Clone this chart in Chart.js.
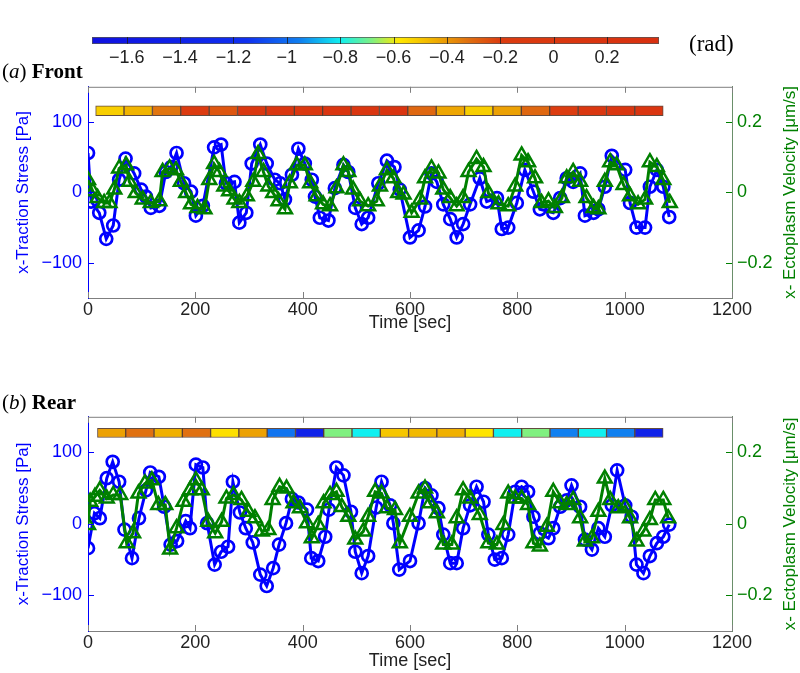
<!DOCTYPE html>
<html>
<head>
<meta charset="utf-8">
<script src="https://cdn.jsdelivr.net/npm/chart.js@4.4.0/dist/chart.umd.min.js"></script>
<style>
body { margin:0; background:#fff; width:800px; height:673px; overflow:hidden; position:relative; }
canvas { position:absolute; left:0; }
.lab { position:absolute; font-family:"Liberation Serif","DejaVu Serif",serif; font-size:21px; color:#000; white-space:nowrap; }
</style>
</head>
<body>
<canvas id="cbar" width="800" height="45" style="top:30px"></canvas>
<canvas id="front" width="800" height="270" style="top:70px"></canvas>
<canvas id="rear" width="800" height="273" style="top:400px"></canvas>
<div class="lab" style="left:689px;top:31px;font-size:23px">(rad)</div>
<div class="lab" style="left:2px;top:59px">(<i>a</i>) <b>Front</b></div>
<div class="lab" style="left:2px;top:390px">(<i>b</i>) <b>Rear</b></div>
<script>
// ticks
var xTicks = [0, 200, 400, 600, 800, 1000, 1200];
var stressTicks = [-100, 0, 100];
var velTicks = [-0.2, 0, 0.2];
var cbTicks = [-1.6, -1.4, -1.2, -1, -0.8, -0.6, -0.4, -0.2, 0, 0.2];
var cbRange = [-1.73, 0.395];

// (a) front
var frontStressT = [0,6,21,34,47,58,70,86,99,108,117,133,145,155,165,179,192,201,214,235,248,257,273,282,295,305,321,333,348,358,367,380,392,404,417,423,432,448,460,476,485,498,510,522,541,557,571,581,600,616,628,640,650,662,675,687,699,712,730,743,762,771,783,799,814,830,842,867,880,892,904,917,926,942,951,963,976,1001,1010,1022,1038,1047,1060,1072,1083];
var frontStress = [56,-13,-29,-66,-47,18,48,27,4,-6,-22,-19,29,36,56,13,1,-33,-19,64,68,13,15,-43,-29,41,68,41,18,13,-10,25,62,41,18,-6,-36,-40,6,39,29,-22,-45,-36,13,45,36,4,-64,-54,-20,27,15,-17,-38,-64,-45,-17,20,-13,-8,-52,-50,-15,32,1,-24,-29,-8,20,15,27,-33,-29,-24,8,52,32,-15,-50,-50,8,32,8,-35];
var frontVelT = [0,9,18,30,40,49,58,71,77,89,102,117,133,139,152,164,173,183,192,204,217,226,235,245,254,263,273,282,296,308,317,327,336,345,355,367,376,389,404,414,426,438,451,463,476,485,494,507,522,538,544,557,569,578,588,603,619,628,640,653,662,675,687,699,709,724,737,746,765,783,796,808,820,833,845,858,870,883,892,904,917,929,942,951,963,973,985,998,1010,1025,1038,1047,1060,1072,1084];
var frontVel = [0.035,0.003,-0.016,-0.03,-0.03,0.008,0.068,0.077,0.03,-0.002,-0.02,-0.03,-0.025,0.058,0.068,0.063,0.03,-0.002,-0.034,-0.044,-0.048,0.035,0.081,0.058,0.017,0.003,-0.02,-0.03,-0.011,0.03,0.109,0.058,0.017,-0.002,-0.025,-0.048,0.026,0.077,0.077,0.026,-0.011,-0.034,-0.039,0.012,0.077,0.058,0.008,-0.025,-0.039,-0.025,0.017,0.063,0.04,-0.002,-0.006,-0.058,-0.02,0.04,0.068,0.054,0.008,-0.016,-0.039,-0.016,0.058,0.095,0.072,-0.002,-0.034,-0.039,0.017,0.105,0.086,0.04,-0.03,-0.025,-0.044,-0.016,0.04,0.058,0.03,-0.016,-0.044,-0.048,0.03,0.086,0.077,0.021,-0.011,-0.034,-0.02,0.086,0.072,0.035,-0.03];
var frontPhaseT = [40.7,93.6,146.5,199.3,252.2,305.1,358,410.9,463.7,516.6,569.5,622.4,675.3,728.1,781,833.9,886.8,939.7,992.5,1045.4];
var frontPhase = [-0.52,-0.46,-0.33,-0.15,-0.26,0.05,0.1,0,0.15,0.08,0.2,-0.3,-0.43,-0.52,-0.42,-0.3,-0.2,0.05,0.1,0.15];

// (b) rear
var rearStressT = [0,12,22,35,46,58,68,82,95,108,116,132,142,154,166,182,190,201,214,222,236,248,261,270,283,294,307,321,333,345,356,369,380,392,408,416,429,442,449,463,476,490,498,510,522,537,547,563,569,580,600,616,628,640,653,662,675,687,699,712,724,737,746,758,771,783,796,808,820,830,842,858,867,880,892,901,917,926,939,951,963,976,986,1001,1013,1022,1035,1047,1060,1072,1083];
var rearStress = [-34,15,8,64,87,59,-8,-48,8,47,72,66,24,-29,-24,4,-6,83,79,1,-57,-39,-32,59,16,-6,-26,-71,-87,-62,-29,1,35,30,20,-48,-52,-18,20,79,68,17,-39,-69,-45,23,59,26,1,-64,-52,1,50,40,22,-15,-55,-55,-6,26,52,31,-15,-50,-48,-15,45,52,45,10,-13,-20,-6,24,33,54,24,-22,-36,-6,-18,26,75,26,10,-57,-69,-45,-27,-18,-1];
var rearVelT = [0,4,13,22,35,47,60,72,84,94,106,119,131,144,153,165,178,190,201,212,224,237,249,258,271,286,299,311,324,336,344,357,370,383,395,408,417,429,439,451,463,473,485,498,513,522,535,547,557,572,581,600,616,628,637,650,662,678,687,699,712,730,746,762,774,783,796,808,820,830,842,855,867,880,892,904,917,926,939,951,963,973,988,1001,1010,1022,1035,1047,1057,1072,1081];
var rearVel = [-0.003,0.062,0.076,0.094,0.071,0.081,0.081,-0.054,-0.026,0.085,0.113,0.122,0.053,0.053,-0.072,-0.012,0.062,0.094,0.122,0.094,0.006,-0.026,0.006,0.071,0.081,0.067,0.034,0.016,-0.021,-0.017,0.067,0.104,0.099,0.058,0.044,0.002,-0.04,-0.003,0.058,0.081,0.09,0.047,0.02,-0.044,-0.021,0.02,0.09,0.085,0.044,0.039,-0.054,0.02,0.085,0.099,0.058,0.03,-0.058,-0.058,0.016,0.094,0.071,0.025,-0.054,-0.058,-0.003,0.085,0.071,0.071,0.053,-0.054,-0.063,-0.008,0.09,0.058,0.053,0.067,0.016,-0.049,-0.04,0.034,0.127,0.067,0.044,0.048,0.016,-0.049,-0.021,0.011,0.067,0.067,0.016];
var rearPhaseT = [44,96.7,149.4,202.1,254.8,307.5,360.2,412.9,465.6,518.3,571,623.7,676.4,729.1,781.8,834.5,887.2,939.9,992.6,1045.3];
var rearPhase = [-0.42,-0.32,-0.45,-0.32,-0.56,-0.42,-0.98,-1.4,-0.68,-0.8,-0.5,-0.47,-0.45,-0.57,-0.8,-0.68,-0.95,-0.8,-0.95,-1.4];

// colormap (rad -> rgb), close to the jet-like bar on top
var cmapV = [-1.73, -1.15, -0.95, -0.8, -0.68, -0.58, -0.45, -0.32, -0.2, 0.395];
var cmapC = [[16,16,224],[16,48,240],[16,128,240],[16,240,240],[128,240,128],[255,232,0],[240,176,0],[224,112,16],[220,60,16],[216,48,16]];

var BLUE = '#0000ff', GREEN = '#008000';

Chart.defaults.font.family = '"Liberation Sans", Arial, sans-serif';
Chart.defaults.font.size = 18;
Chart.defaults.animation = false;

function phaseColor(v){
  if (v <= cmapV[0]) return 'rgb(' + cmapC[0].join(',') + ')';
  for (var i = 1; i < cmapV.length; i++) {
    if (v <= cmapV[i]) {
      var f = (v - cmapV[i-1]) / (cmapV[i] - cmapV[i-1]);
      var c = cmapC[i-1].map(function(a, k){ return Math.round(a + (cmapC[i][k] - a) * f); });
      return 'rgb(' + c.join(',') + ')';
    }
  }
  return 'rgb(' + cmapC[cmapC.length-1].join(',') + ')';
}

function minus(v){ return String(v).replace('-', '\u2212'); }

function pts(t, v){
  return t.map(function(x, i){ return {x: x, y: v[i]}; });
}

function fixTicks(list){
  return function(s){ s.ticks = list.map(function(v){ return {value: v}; }); };
}

// inward tick marks, top box line and the right hand title
var boxPlugin = {
  id: 'box',
  afterDraw: function(chart, args, o){
    var ctx = chart.ctx, a = chart.chartArea, s = chart.scales;
    ctx.save();
    ctx.lineWidth = 1;
    ctx.strokeStyle = '#7f7f7f';
    ctx.beginPath();
    ctx.moveTo(a.left, a.top + 0.5); ctx.lineTo(a.right, a.top + 0.5);
    s.x.ticks.forEach(function(t){
      var px = Math.round(s.x.getPixelForValue(t.value)) + 0.5;
      ctx.moveTo(px, a.bottom); ctx.lineTo(px, a.bottom - 6);
      ctx.moveTo(px, a.top); ctx.lineTo(px, a.top + 6);
    });
    ctx.stroke();
    ctx.strokeStyle = BLUE;
    ctx.beginPath();
    s.y.ticks.forEach(function(t){
      var py = Math.round(s.y.getPixelForValue(t.value)) + 0.5;
      ctx.moveTo(a.left, py); ctx.lineTo(a.left + 6, py);
    });
    ctx.stroke();
    ctx.strokeStyle = GREEN;
    ctx.beginPath();
    s.y2.ticks.forEach(function(t){
      var py = Math.round(s.y2.getPixelForValue(t.value)) + 0.5;
      ctx.moveTo(a.right, py); ctx.lineTo(a.right - 6, py);
    });
    ctx.stroke();
    // right title reads bottom to top like the left one
    ctx.translate(790, (a.top + a.bottom) / 2);
    ctx.rotate(-Math.PI / 2);
    ctx.fillStyle = GREEN;
    ctx.font = '17px "Liberation Sans", Arial, sans-serif';
    ctx.textAlign = 'center';
    ctx.textBaseline = 'middle';
    ctx.fillText('x- Ectoplasm Velocity [\u03bcm/s]', 0, 0);
    ctx.restore();
  }
};

function makePanel(id, sT, sV, vT, vV, pT, pV, o){
  var strip = pT.map(function(t){ return {x: t, y: o.strip}; });
  return new Chart(document.getElementById(id), {
    type: 'line',
    data: {
      datasets: [{
        label: 'velocity', data: pts(vT, vV), yAxisID: 'y2', order: 0,
        borderColor: GREEN, borderWidth: 3, tension: 0, fill: false,
        pointStyle: 'triangle', pointRadius: 8, pointBorderWidth: 2.5,
        pointBorderColor: GREEN, pointBackgroundColor: 'rgba(0,0,0,0)'
      }, {
        label: 'stress', data: pts(sT, sV), yAxisID: 'y', order: 1,
        borderColor: BLUE, borderWidth: 3, tension: 0, fill: false,
        pointStyle: 'circle', pointRadius: 6, pointBorderWidth: 2.7,
        pointBorderColor: BLUE, pointBackgroundColor: 'rgba(0,0,0,0)'
      }, {
        type: 'bar', label: 'phase', data: strip, yAxisID: 'y', order: 2,
        backgroundColor: pV.map(phaseColor), borderColor: 'rgba(60,30,15,0.8)',
        borderWidth: 1, borderSkipped: false, barPercentage: 1, categoryPercentage: 1
      }]
    },
    options: {
      responsive: false,
      devicePixelRatio: 1,
      layout: { padding: { top: o.top, left: 0, right: 0, bottom: 0 } },
      plugins: { legend: { display: false }, tooltip: { enabled: false } },
      scales: {
        x: {
          type: 'linear', min: 0, max: 1200, offset: false,
          afterBuildTicks: fixTicks(xTicks),
          afterFit: function(s){ s.height = 42; },
          grid: { display: false, drawTicks: false, offset: false },
          border: { color: '#7f7f7f', width: 1 },
          ticks: { color: '#222', padding: 1, maxRotation: 0, callback: minus },
          title: { display: true, text: 'Time [sec]', color: '#222', padding: { top: 0, bottom: o.tpad } }
        },
        y: {
          type: 'linear', position: 'left', min: -150, max: 150,
          afterBuildTicks: fixTicks(stressTicks),
          afterFit: function(s){ s.width = 88; },
          grid: { display: false, drawTicks: false },
          border: { color: BLUE, width: 1 },
          ticks: { color: BLUE, padding: 6, callback: minus },
          title: { display: true, text: 'x-Traction Stress [Pa]', color: BLUE, font: { size: 17 }, padding: { top: 13, bottom: 0 } }
        },
        y2: {
          type: 'linear', position: 'right', min: -0.3, max: 0.3,
          afterBuildTicks: fixTicks(velTicks),
          afterFit: function(s){ s.width = 68; },
          grid: { display: false, drawTicks: false },
          border: { color: '#6a8f6a', width: 1 },
          ticks: { color: GREEN, padding: 5, callback: minus }
        }
      }
    },
    plugins: [boxPlugin]
  });
}

makePanel('front', frontStressT, frontStress, frontVelT, frontVel, frontPhaseT, frontPhase, {top: 14, tpad: 6, strip: [109, 123]});
makePanel('rear', rearStressT, rearStress, rearVelT, rearVel, rearPhaseT, rearPhase, {top: 16, tpad: 1, strip: [121, 134]});

// colour bar on top
var cbTickPlugin = {
  id: 'cbTicks',
  afterDraw: function(chart){
    var ctx = chart.ctx, a = chart.chartArea, x = chart.scales.x;
    ctx.save();
    ctx.strokeStyle = 'rgba(30,30,30,0.8)';
    ctx.lineWidth = 1;
    ctx.beginPath();
    x.ticks.forEach(function(t){
      var px = Math.round(x.getPixelForValue(t.value)) + 0.5;
      ctx.moveTo(px, a.top); ctx.lineTo(px, a.bottom);
    });
    ctx.stroke();
    ctx.restore();
  }
};

new Chart(document.getElementById('cbar'), {
  type: 'bar',
  data: {
    labels: ['rad'],
    datasets: [{
      data: [cbRange],
      backgroundColor: function(c){
        var ch = c.chart;
        if (!ch.chartArea) return '#888';
        var x = ch.scales.x;
        var x0 = x.getPixelForValue(cbRange[0]), x1 = x.getPixelForValue(cbRange[1]);
        var g = ch.ctx.createLinearGradient(x0, 0, x1, 0);
        cmapV.forEach(function(v, i){
          g.addColorStop((v - cbRange[0]) / (cbRange[1] - cbRange[0]), 'rgb(' + cmapC[i].join(',') + ')');
        });
        return g;
      },
      borderColor: '#555', borderWidth: 1, borderSkipped: false,
      barPercentage: 1, categoryPercentage: 1
    }]
  },
  options: {
    indexAxis: 'y',
    responsive: false,
    devicePixelRatio: 1,
    layout: { padding: { left: 92, right: 141, top: 7, bottom: 0 } },
    plugins: { legend: { display: false }, tooltip: { enabled: false } },
    scales: {
      x: {
        type: 'linear', min: cbRange[0], max: cbRange[1],
        afterBuildTicks: fixTicks(cbTicks),
        afterFit: function(s){ s.height = 31; },
        grid: { display: false, drawTicks: false },
        border: { display: false },
        ticks: { color: '#222', padding: 3, callback: minus, maxRotation: 0, autoSkip: false }
      },
      y: { display: false }
    }
  },
  plugins: [cbTickPlugin]
});
</script>
</body>
</html>
